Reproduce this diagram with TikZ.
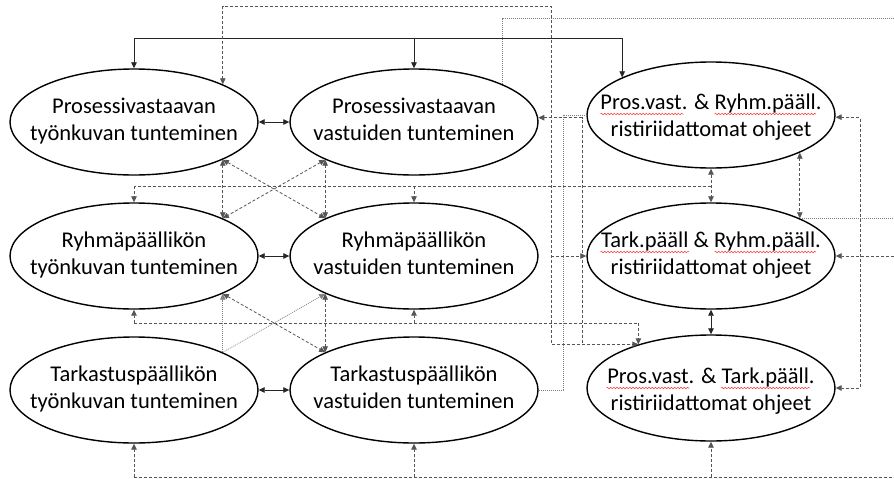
\documentclass[tikz,border=0pt]{standalone}
\usepackage{fontspec}
\setmainfont{Carlito}
\usetikzlibrary{shapes.geometric,arrows.meta,decorations.pathmorphing}

\definecolor{dashgray}{HTML}{555555}
\definecolor{dotgray}{HTML}{808080}

% two centred lines that do not widen the ellipse; optional downward shift
\newcommand\twoline[3][0pt]{\makebox[0pt]{\raisebox{-#1}[\height][\depth]{\begin{tabular}{@{}c@{}}#2\\#3\end{tabular}}}}

\tikzset{
  ell/.style={ellipse, draw=black, line width=1.4pt, minimum width=248pt,
    minimum height=106pt, inner sep=0pt, fill=white},
  link/.style={draw=black!85, line width=0.8pt},
  dlink/.style={draw=dashgray, line width=0.8pt, dash pattern=on 3pt off 2pt},
  flink/.style={draw=dotgray, line width=0.7pt, dash pattern=on 1pt off 1pt},
  spell/.style={draw=red!80, line width=0.5pt, decorate,
    decoration={snake, amplitude=0.8pt, segment length=3.2pt}},
  >={Triangle[length=6pt,width=5.5pt]}
}

\begin{document}
\begin{tikzpicture}[x=1pt,y=-1pt,font=\fontsize{22.5}{27}\selectfont]
\fill[white] (0,0) rectangle (894,479);
\useasboundingbox (0,0) rectangle (894,479);

% knowledge nodes
\node[ell] (A1) at (134,122) {\twoline{Prosessivastaavan}{työnkuvan tunteminen}};
\node[ell] (A2) at (134,256) {\twoline{Ryhmäpäällikön}{työnkuvan tunteminen}};
\node[ell] (A3) at (134,390) {\twoline{Tarkastuspäällikön}{työnkuvan tunteminen}};
\node[ell] (B1) at (414,122) {\twoline{Prosessivastaavan}{vastuiden tunteminen}};
\node[ell] (B2) at (414,256) {\twoline{Ryhmäpäällikön}{vastuiden tunteminen}};
\node[ell] (B3) at (414,390) {\twoline{Tarkastuspäällikön}{vastuiden tunteminen}};
% instruction nodes
\node[ell] (C1) at (711,115) {\twoline[3pt]{Pros.vast. \& Ryhm.pääll.}{ristiriidattomat ohjeet}};
\node[ell] (C2) at (711,256) {\twoline{Tark.pääll \& Ryhm.pääll.}{ristiriidattomat ohjeet}};
\node[ell] (C3) at (711,388) {\twoline[4pt]{Pros.vast. \& Tark.pääll.}{ristiriidattomat ohjeet}};

% spell-check waves under the abbreviations
\draw[spell] (600.5,114) -- (683.5,114);
\draw[spell] (714.5,114) -- (816,114);
\draw[spell] (600.5,252) -- (689,252);
\draw[spell] (714.5,252) -- (816,252);
\draw[spell] (606.5,388) -- (689.5,388);
\draw[spell] (721,388) -- (810,388);

\coordinate (edge) at (894,0);

% solid distribution line along the top
\coordinate (ytop) at (0,38);
\draw[link] (A1.north |- ytop) -- (C1.157 |- ytop);
\draw[link,->] (A1.north |- ytop) -- (A1.north);
\draw[link,->] (B1.north |- ytop) -- (B1.north);
\draw[link,->] (C1.157 |- ytop) -- (C1.157);

% long routed dashed links
\coordinate (jx) at (551,6);
\draw[dlink,<->] (A1.23) |- (jx) |- (C3.149);
\draw[dlink,->] (jx |- C2.west) -- (C2.west);
\coordinate (kx) at (582,0);
\draw[dlink,<-] (B1.2) -| (kx |- C3.149);

% fine dotted links
\coordinate (hx) at (0,18);
\draw[flink] (B1.23) |- (edge |- hx);
\coordinate (gx) at (563,0);
\draw[flink] (B3.east) -| (gx |- C1.west) -- (C1.west);
\draw[flink] (C2.23) -- (C2.23 -| edge);

% right column links
\draw[dlink,<->] (C1.south) -- (C2.north);
\draw[dlink,<->] (C1.-23) -- (C2.23);
\draw[link,<->] (C2.south) -- (C3.north);
\coordinate (rx) at (860,0);
\draw[dlink,<->] (C1.-1) -| (rx |- C3.east) -- (C3.east);
\draw[dlink,->] (C2.east -| edge) -- (C2.east);

% horizontal dashed buses
\coordinate (y1) at (0,186);
\draw[dlink] (C1.south |- y1) -- (A2.north |- y1);
\draw[dlink,->] (A2.north |- y1) -- (A2.north);
\draw[dlink,->] (B2.north |- y1) -- (B2.north);

\coordinate (y2) at (0,323);
\draw[dlink] (A2.south |- y2) -- (C3.149 |- y2);
\draw[dlink,->] (A2.south |- y2) -- (A2.south);
\draw[dlink,->] (B2.south |- y2) -- (B2.south);
\draw[dlink,->] (C3.149 |- y2) -- (C3.149);

\coordinate (y3) at (0,477);
\draw[dlink] (A3.south |- y3) -- (edge |- y3);
\draw[dlink,->] (A3.south |- y3) -- (A3.south);
\draw[dlink,->] (B3.south |- y3) -- (B3.south);
\draw[dlink,->] (C3.south |- y3) -- (C3.south);

% neighbouring pairs
\draw[link,<->] (A1.east) -- (B1.west);
\draw[link,<->] (A2.east) -- (B2.west);
\draw[link,<->] (A3.east) -- (B3.west);

% cross links between the left columns
\draw[dlink,<->] (A1.-23) -- (A2.23);
\draw[dlink,<->] (B1.203) -- (B2.157);
\draw[dlink,<->] (A1.-23) -- (B2.157);
\draw[dlink,<->] (B1.203) -- (A2.23);
\draw[flink,->] (A3.23) -- (A2.-23);
\draw[dlink,<->] (B2.203) -- (B3.157);
\draw[dlink,<->] (A2.-23) -- (B3.157);
\draw[flink,->] (A3.23) -- (B2.203);
\end{tikzpicture}
\end{document}
